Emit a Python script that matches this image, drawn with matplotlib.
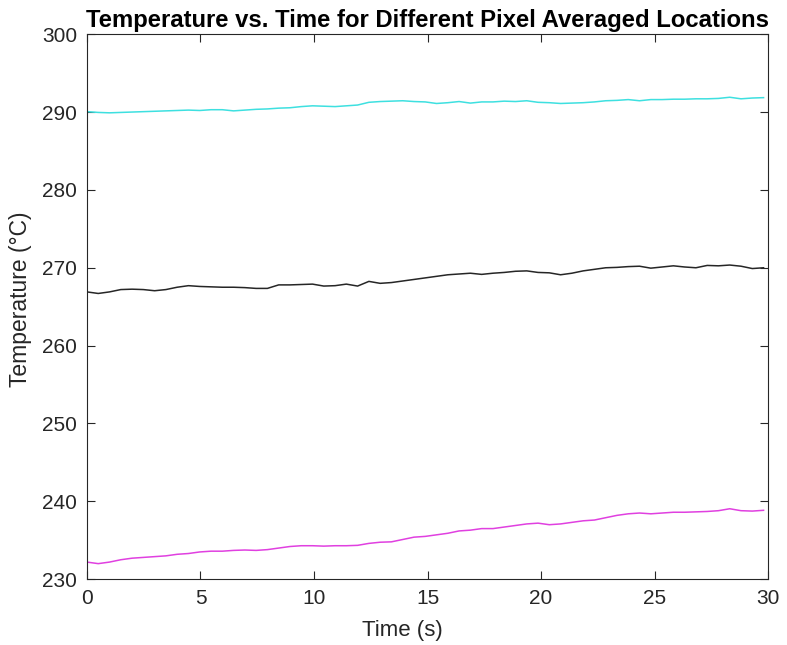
import matplotlib.pyplot as plt
import numpy as np

plt.rcParams['font.family'] = ['Liberation Sans', 'DejaVu Sans']

# time samples (s), roughly every half second up to the end of the record
time_s = np.linspace(0, 29.8, 61)

# Temperature readings (deg C)
temp_cyan = [290.05, 289.95, 289.9, 289.95, 290.0, 290.05, 290.1, 290.15, 290.2, 290.25,
             290.2, 290.3, 290.3, 290.15, 290.25, 290.35, 290.4, 290.5, 290.55, 290.7,
             290.8, 290.75, 290.7, 290.8, 290.9, 291.25, 291.35, 291.4, 291.45, 291.35,
             291.3, 291.1, 291.2, 291.35, 291.15, 291.3, 291.3, 291.4, 291.35, 291.45,
             291.25, 291.2, 291.1, 291.15, 291.2, 291.3, 291.45, 291.5, 291.6, 291.45,
             291.6, 291.6, 291.65, 291.65, 291.7, 291.7, 291.75, 291.9, 291.7, 291.8, 291.85]

temp_black = [266.9, 266.7, 266.9, 267.2, 267.25, 267.2, 267.05, 267.2, 267.5, 267.7,
              267.6, 267.55, 267.5, 267.5, 267.45, 267.35, 267.35, 267.8, 267.8, 267.85,
              267.9, 267.65, 267.7, 267.9, 267.65, 268.25, 268.0, 268.1, 268.3, 268.5,
              268.7, 268.9, 269.1, 269.2, 269.3, 269.15, 269.3, 269.4, 269.55, 269.6,
              269.4, 269.35, 269.1, 269.3, 269.6, 269.8, 270.0, 270.05, 270.15, 270.2,
              269.95, 270.1, 270.25, 270.1, 270.0, 270.3, 270.25, 270.35, 270.2, 269.9, 270.0]

temp_magenta = [232.2, 232.0, 232.2, 232.5, 232.7, 232.8, 232.9, 233.0, 233.2, 233.3,
                233.5, 233.6, 233.6, 233.7, 233.75, 233.7, 233.8, 234.0, 234.2, 234.3,
                234.3, 234.25, 234.3, 234.3, 234.35, 234.6, 234.75, 234.8, 235.1, 235.4,
                235.5, 235.7, 235.9, 236.2, 236.3, 236.5, 236.5, 236.7, 236.9, 237.1,
                237.2, 237.0, 237.1, 237.3, 237.5, 237.6, 237.9, 238.2, 238.4, 238.5,
                238.4, 238.5, 238.6, 238.6, 238.65, 238.7, 238.8, 239.05, 238.8, 238.75, 238.85]

fig = plt.figure(figsize=(7.87, 6.45), dpi=100)
ax = fig.add_axes([0.1105, 0.102, 0.8655, 0.845])

ax.plot(time_s, temp_cyan, color='#3ee0e0', lw=1.1)
ax.plot(time_s, temp_black, color='#262626', lw=1.1)
ax.plot(time_s, temp_magenta, color='#e040e0', lw=1.1)

ax.set_xlim(0, 30)
ax.set_ylim(230, 300)
ax.set_xticks(range(0, 31, 5))
ax.set_yticks(range(230, 301, 10))

ax.tick_params(direction='in', top=True, right=True, length=6, width=0.8,
               labelsize=15, colors='#262626', pad=7)
for sp in ax.spines.values():
    sp.set_color('#262626')
    sp.set_linewidth(0.8)

ax.set_xlabel('Time (s)', fontsize=16, color='#262626')
ax.set_ylabel('Temperature (°C)', fontsize=16.5, color='#262626')
ax.xaxis.set_label_coords(0.463, -0.074)
ax.yaxis.set_label_coords(-0.081, 0.514)
ax.set_title('Temperature vs. Time for Different Pixel Averaged Locations',
             fontsize=17.2, fontweight='bold', pad=5)

fig.savefig('out.png', dpi=100)
